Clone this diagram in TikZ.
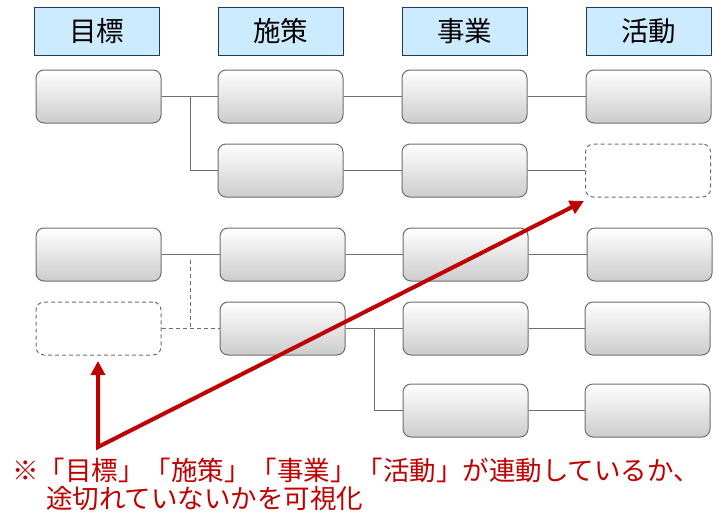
\documentclass[tikz,border=0pt]{standalone}
\usepackage{fontspec}
\setmainfont{Noto Sans CJK JP}
\usetikzlibrary{arrows.meta}
\definecolor{hdrfill}{HTML}{CCEBFF}
\definecolor{hdrline}{HTML}{1F3864}
\definecolor{boxline}{HTML}{6E6E6E}
\definecolor{accent}{HTML}{C00000}
\tikzset{
  hdr/.style={draw=hdrline, line width=1pt, fill=hdrfill, minimum width=125pt, minimum height=48pt, inner sep=0pt, font=\fontsize{27.5}{30}\selectfont},
  box/.style={draw=boxline, line width=1pt, rounded corners=8pt, top color=white, bottom color=black!20, minimum width=125pt, minimum height=53pt, inner sep=0pt},
  ghost/.style={draw=boxline, line width=1pt, dashed, dash pattern=on 4pt off 3pt, rounded corners=8pt, minimum width=125pt, minimum height=53pt, inner sep=0pt},
  link/.style={draw=boxline, line width=1pt},
  dlink/.style={draw=boxline, line width=1pt, dash pattern=on 4pt off 3pt},
  redarrow/.style={draw=accent, line width=4pt, line join=miter, {Triangle[length=14pt,width=14pt]}-{Triangle[length=14pt,width=14pt]}},
  note/.style={text=accent, anchor=west, inner sep=0pt, font=\fontsize{26.5}{28}\selectfont}
}
\begin{document}
\begin{tikzpicture}[x=1pt,y=-1pt]
\useasboundingbox (0,0) rectangle (719,517);
% headers
\node[hdr] (h1) at (96.5,31) {目標};
\node[hdr] (h2) at (280.5,31) {施策};
\node[hdr] (h3) at (464.5,31) {事業};
\node[hdr] (h4) at (648.5,31) {活動};
% row 1
\node[box] (g1) at (98.5,96.5) {};
\node[box] (s1) at (280.5,96.5) {};
\node[box] (b1) at (464.5,96.5) {};
\node[box] (a1) at (648.5,96.5) {};
% row 2
\node[box] (s2) at (280.5,170.5) {};
\node[box] (b2) at (464.5,170.5) {};
\node[ghost] (a2) at (648,170.5) {};
% row 3
\node[box] (g3) at (98.5,254.5) {};
\node[box] (s3) at (282.5,254.5) {};
\node[box] (b3) at (465.5,254.5) {};
\node[box] (a3) at (649.5,254.5) {};
% row 4
\node[ghost] (g4) at (98.5,328.5) {};
\node[box] (s4) at (282.5,328.5) {};
\node[box] (b4) at (465.5,328.5) {};
\node[box] (a4) at (647.5,328.5) {};
% row 5
\node[box] (b5) at (465.5,410.5) {};
\node[box] (a5) at (647.5,410.5) {};
% connectors
\coordinate (j1) at (190,96.5);
\coordinate (j2) at (190,260);
\coordinate (j3) at (374,328.5);
\draw[link] (g1.east) -- (s1.west);
\draw[link] (j1) |- (s2.west);
\draw[link] (s1.east) -- (b1.west);
\draw[link] (b1.east) -- (a1.west);
\draw[link] (s2.east) -- (b2.west);
\draw[link] (b2.east) -- (a2.west);
\draw[link] (g3.east) -- (s3.west);
\draw[dlink] (g4.east) -- (s4.west);
\draw[dlink] (j2) -- (j2 |- s4.west);
\draw[link] (s3.east) -- (b3.west);
\draw[link] (b3.east) -- (a3.west);
\draw[link] (s4.east) -- (b4.west);
\draw[link] (j3) |- (b5.west);
\draw[link] (b4.east) -- (a4.west);
\draw[link] (b5.east) -- (a5.west);
% red arrow
\coordinate (r0) at (98,361);
\coordinate (r1) at (98,447);
\coordinate (r2) at (584,201);
\draw[redarrow] (r0) -- (r1) -- (r2);
% note
\node[note] (n1) at (12,470) {※「目標」「施策」「事業」「活動」が連動しているか、};
\node[note] (n2) at (46,498.5) {途切れていないかを可視化};
\end{tikzpicture}
\end{document}
